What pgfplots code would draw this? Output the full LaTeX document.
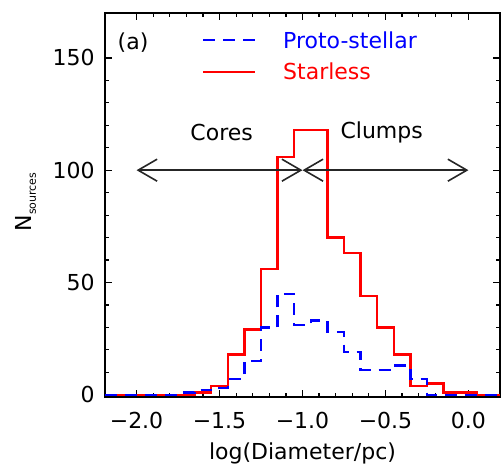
\documentclass[border=0pt]{standalone}
\usepackage{fontspec}
\setmainfont{DejaVu Sans}
\usepackage{pgfplots}
\pgfplotsset{compat=1.18}
\usepackage{pgfplotstable}
\usetikzlibrary{arrows.meta}

% histogram tables: left bin edge, count
\pgfplotstableread{
x y
-2.19 0
-1.65 1
-1.55 4
-1.45 18
-1.35 29
-1.25 56
-1.15 106
-1.05 118
-0.95 118
-0.85 70
-0.75 63
-0.65 44
-0.55 30
-0.45 18
-0.35 4
-0.25 5
-0.15 1
-0.05 1
0.05 0
0.19 0
}\starless

\pgfplotstableread{
x y
-2.19 0
-1.75 1
-1.65 2
-1.55 3
-1.45 7
-1.35 15
-1.25 30
-1.15 45
-1.05 31
-0.95 33
-0.85 28
-0.75 19
-0.65 11
-0.55 11
-0.45 13
-0.35 7
-0.25 0
0.19 0
}\proto

\begin{document}
\fontsize{11}{13}\selectfont
\begin{tikzpicture}
\begin{axis}[
  scale only axis, width=197.5pt, height=192pt,
  xmin=-2.19, xmax=0.19, ymin=-1, ymax=170,
  axis line style={line width=0.8pt, black},
  tick style={line width=0.6pt, black},
  tick align=inside,
  major tick length=3.5pt, minor tick length=1.8pt,
  xtick={-2,-1.5,-1,-0.5,0},
  xticklabels={−2.0,−1.5,−1.0,−0.5,0.0},
  minor x tick num=4,
  ytick={0,50,100,150},
  yticklabels={0,50,100,150},
  minor y tick num=4,
  xticklabel style={anchor=base, yshift=-15.7pt},
  yticklabel style={xshift=-1.3pt},
  xlabel={log(Diameter/pc)},
  xlabel style={at={(axis description cs:0.5,-0.164)}, anchor=base},
  ylabel={N\raisebox{-2pt}{\fontsize{5.5}{6}\selectfont sources}},
  ylabel style={at={(axis description cs:-0.2,0.508)}, anchor=center},
  reverse legend,
  legend cell align=left,
  legend image code/.code={\draw[#1] (0pt,0pt) -- (26pt,0pt); \path (39.3pt,0pt);},
  legend style={draw=none, fill=none, at={(axis description cs:0.245,0.951)},
    anchor=north west, inner sep=0pt, row sep=7.8pt, column sep=0pt,
    nodes={inner sep=0pt, text height=8pt, text depth=0pt}},
]
\addplot[const plot, no marks, color=red, line width=1.2pt] table[x=x,y=y] {\starless};
\addlegendentry{\textcolor{red}{Starless}}
\addplot[const plot, no marks, color=blue, line width=1.2pt, dash pattern=on 6pt off 4pt] table[x=x,y=y] {\proto};
\addlegendentry{\textcolor{blue}{Proto-stellar}}

\draw[line width=0.8pt, black!85, {Straight Barb[length=9.5pt,width=11pt]}-{Straight Barb[length=9.5pt,width=11pt]}]
  (axis cs:-2,100) -- (axis cs:-1,100);
\draw[line width=0.8pt, black!85, {Straight Barb[length=9.5pt,width=11pt]}-{Straight Barb[length=9.5pt,width=11pt]}]
  (axis cs:-1,100) -- (axis cs:0,100);
\node at (axis cs:-1.487,117) {Cores};
\node at (axis cs:-0.523,117) {Clumps};
\node at (axis description cs:0.071,0.922) {(a)};

\coordinate (LL) at (rel axis cs:0,0);
\coordinate (UR) at (rel axis cs:1,1);
\end{axis}
\pgfresetboundingbox
\path[use as bounding box] ([shift={(-52.5pt,-36.5pt)}]LL) rectangle ([shift={(1pt,6.5pt)}]UR);
\end{tikzpicture}
\end{document}
